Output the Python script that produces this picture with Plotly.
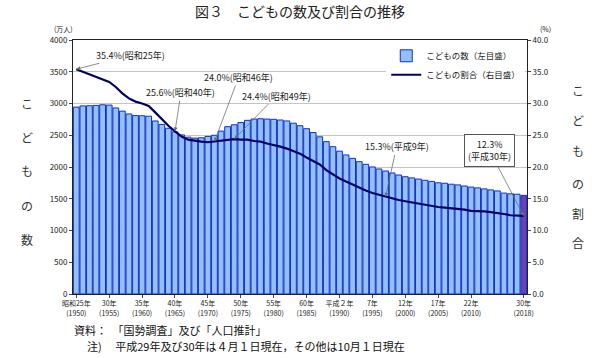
import plotly.graph_objects as go

years = list(range(1950, 2019))
children = [2943, 2962, 2965, 2970, 2980, 2975, 2930, 2880, 2835, 2810,
            2807, 2800, 2725, 2670, 2610, 2553, 2505, 2470, 2455, 2460,
            2482, 2500, 2565, 2635, 2665, 2700, 2735, 2755, 2760, 2755,
            2751, 2740, 2725, 2690, 2650, 2603, 2543, 2475, 2399, 2320,
            2249, 2190, 2136, 2084, 2042, 2001, 1969, 1937, 1906, 1874,
            1847, 1828, 1810, 1791, 1773, 1752, 1744, 1729, 1718, 1701,
            1684, 1671, 1655, 1639, 1623, 1589, 1578, 1571, 1553]
ratio = [35.4, 35.0, 34.6, 34.2, 33.9, 33.4, 32.6, 31.6, 30.8, 30.3,
         30.0, 29.6, 28.6, 27.5, 26.5, 25.6, 24.8, 24.3, 24.1, 24.0,
         23.9, 24.0, 24.2, 24.3, 24.4, 24.3, 24.3, 24.1, 24.0, 23.7,
         23.5, 23.2, 22.9, 22.5, 22.1, 21.5, 21.0, 20.4, 19.5, 18.8,
         18.2, 17.7, 17.2, 16.8, 16.3, 15.9, 15.6, 15.3, 15.1, 14.8,
         14.6, 14.4, 14.2, 14.0, 13.9, 13.7, 13.6, 13.5, 13.5, 13.3,
         13.1, 13.1, 13.0, 12.9, 12.8, 12.6, 12.4, 12.3, 12.3]

tick_years = [1950, 1955, 1960, 1965, 1970, 1975, 1980, 1985, 1990, 1995, 2000, 2005, 2010, 2018]
tick_text = ["昭和25年<br>(1950)", "30年<br>(1955)", "35年<br>(1960)", "40年<br>(1965)",
             "45年<br>(1970)", "50年<br>(1975)", "55年<br>(1980)", "60年<br>(1985)",
             "平成２年<br>(1990)", "7年<br>(1995)", "12年<br>(2000)", "17年<br>(2005)",
             "22年<br>(2010)", "30年<br>(2018)"]

callouts = [
    (1950, 35.4, "35.4%(昭和25年)", 54, -14, False),
    (1965, 25.6, "25.6%(昭和40年)", 6, -39, False),
    (1971, 24.0, "24.0%(昭和46年)", 24, -64, False),
    (1974, 24.4, "24.4%(昭和49年)", 42, -43, False),
    (1997, 15.3, "15.3%(平成9年)", 11, -50, False),
    (2018, 12.3, "12.3%<br>(平成30年)", -34, -65, True),
]

FONT = "Noto Sans CJK JP"
BAR_FILL = "#93C0F8"
LAST_FILL = "#6B3FB8"

bar_colors = [BAR_FILL] * (len(years) - 1) + [LAST_FILL]

fig = go.Figure()
fig.add_trace(go.Bar(
    x=years, y=children, name="こどもの数（左目盛）",
    marker=dict(color=bar_colors, line=dict(color="#1030C8", width=1)),
    yaxis="y",
))
fig.add_trace(go.Scatter(
    x=years, y=ratio, name="こどもの割合（右目盛）", mode="lines",
    line=dict(color="#000066", width=2.2), yaxis="y2",
))

annotations = []
for x, y, txt, ax, ay, boxed in callouts:
    a = dict(x=x, y=y, xref="x", yref="y2", text=txt, showarrow=True,
             ax=ax, ay=ay, arrowhead=2, arrowsize=1, arrowwidth=0.8,
             arrowcolor="#707070", font=dict(family=FONT, size=9, color="#222222"),
             bgcolor="rgba(255,255,255,0)")
    if boxed:
        a.update(bordercolor="#555555", borderwidth=1, borderpad=3, bgcolor="white")
    annotations.append(a)


def paper_note(px, py, text, size, xanchor="center", color="#333333"):
    return dict(x=(px - 73) / 454, y=(294 - py) / 254, xref="paper", yref="paper",
                xanchor=xanchor, yanchor="middle", text=text, showarrow=False,
                font=dict(family=FONT, size=size, color=color))


# vertical axis titles
left_chars = ["こ", "ど", "も", "の", "数"]
left_py = [103, 137, 170, 205, 240]
for ch, py in zip(left_chars, left_py):
    annotations.append(paper_note(27, py, ch, 12))
right_chars = ["こ", "ど", "も", "の", "割", "合"]
right_py = [90, 120, 150, 183, 213, 242]
for ch, py in zip(right_chars, right_py):
    annotations.append(paper_note(578, py, ch, 12))

# unit labels
annotations.append(paper_note(63, 29, "(万人)", 7, color="#222222"))
annotations.append(paper_note(545, 29, "(%)", 7, color="#222222"))

# footnotes
annotations.append(paper_note(72, 330, "資料：　「国勢調査」及び「人口推計」", 11, xanchor="left", color="#111111"))
annotations.append(paper_note(85, 346, "注)　 平成29年及び30年は４月１日現在，その他は10月１日現在", 11,
                              xanchor="left", color="#111111"))

fig.update_layout(
    width=600, height=358,
    margin=dict(l=73, r=73, t=40, b=64),
    paper_bgcolor="white", plot_bgcolor="white",
    title=dict(text="図３　こどもの数及び割合の推移", x=0.5, xanchor="center", y=0.965, yanchor="middle",
               font=dict(family=FONT, size=14, color="#222222")),
    font=dict(family=FONT, size=8, color="#222222"),
    bargap=0.12,
    showlegend=True,
    legend=dict(x=0.69, y=0.995, xanchor="left", yanchor="top", bgcolor="white",
                bordercolor="#333333", borderwidth=0,
                font=dict(family=FONT, size=8.5), tracegroupgap=0, itemwidth=30),
    xaxis=dict(range=[1949.5, 2018.5], tickmode="array", tickvals=tick_years, ticktext=tick_text,
               tickfont=dict(size=7), ticks="outside", ticklen=3, showgrid=False,
               showline=True, linecolor="#222222", linewidth=1, mirror=True, zeroline=False),
    yaxis=dict(range=[0, 4000], dtick=500, tickfont=dict(size=8), ticks="outside", ticklen=3,
               showgrid=True, gridcolor="#C4C4C4", gridwidth=1,
               showline=True, linecolor="#222222", linewidth=1, zeroline=False),
    yaxis2=dict(range=[0, 40], dtick=5, tickformat=".1f", overlaying="y", side="right",
                tickfont=dict(size=8), ticks="outside", ticklen=3, showgrid=False,
                showline=True, linecolor="#222222", linewidth=1, zeroline=False),
    annotations=annotations,
)

fig.write_html("out.html", config={"displayModeBar": False},
               post_script="document.body.style.margin='0';")
